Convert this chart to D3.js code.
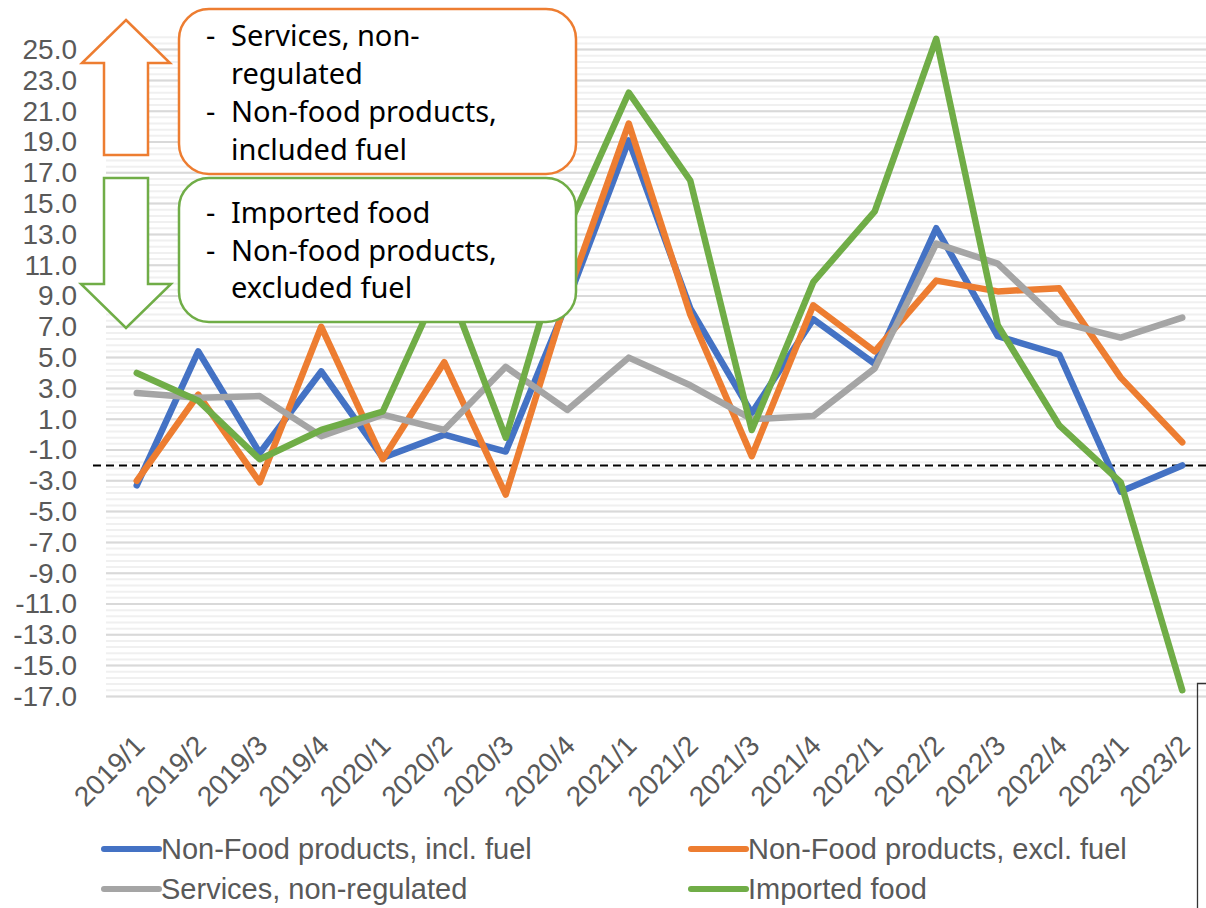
<!DOCTYPE html>
<html>
<head>
<meta charset="utf-8">
<script src="https://cdn.jsdelivr.net/npm/d3@7"></script>
<style>
  html, body { margin: 0; padding: 0; background: #ffffff; }
  svg { display: block; }
</style>
</head>
<body>
<svg id="chart" width="1206" height="908"></svg>
<script>
// Quarterly price change, % — four CPI components
const categories = ["2019/1","2019/2","2019/3","2019/4","2020/1","2020/2","2020/3","2020/4",
  "2021/1","2021/2","2021/3","2021/4","2022/1","2022/2","2022/3","2022/4","2023/1","2023/2"];

const nonFoodIncl  = [-3.3, 5.4, -1.2, 4.1, -1.5, 0.0, -1.1, 8.6, 19.1, 8.2, 1.4, 7.5, 4.6, 13.4, 6.4, 5.2, -3.7, -2.0];
const nonFoodExcl  = [-3.0, 2.6, -3.1, 7.0, -1.6, 4.7, -3.9, 9.0, 20.2, 7.8, -1.4, 8.4, 5.4, 10.0, 9.3, 9.5, 3.7, -0.5];
const servicesNonReg = [2.7, 2.4, 2.5, -0.1, 1.3, 0.3, 4.4, 1.6, 5.0, 3.2, 1.0, 1.2, 4.3, 12.4, 11.1, 7.3, 6.3, 7.6];
const importedFood = [4.0, 2.2, -1.6, 0.3, 1.5, 10.3, -0.2, 13.3, 22.2, 16.5, 0.3, 9.9, 14.5, 25.7, 7.1, 0.6, -3.1, -16.6];

const seriesNames  = ["Non-Food products, incl. fuel", "Non-Food products, excl. fuel", "Services, non-regulated", "Imported food"];
const seriesColors = ["#4472C4", "#ED7D31", "#A5A5A5", "#70AD47"];
const seriesValues = [nonFoodIncl, nonFoodExcl, servicesNonReg, importedFood];

const yTickValues = d3.range(-17, 25.001, 2);
const referenceLevel = -2.0;

const upGroups   = ["Services, non-", "regulated", "Non-food products,", "included fuel"];
const downGroups = ["Imported food", "Non-food products,", "excluded fuel"];

// ---- layout
const svg = d3.select("#chart");
const plotLeft = 106, plotRight = 1213;
const x = d3.scalePoint().domain(categories).range([plotLeft, plotRight]).padding(0.5);
const y = d3.scaleLinear().domain([-17, 26]).range([696.4, 34.2]);
const axisFont = "'Liberation Sans', Arial, sans-serif";
const fmt = d3.formatLocale({decimal: ".", thousands: ",", grouping: [3], currency: ["", ""], minus: "-"}).format(".1f");

// minor gridlines (every 0.4) then major gridlines (every 2)
const minorValues = d3.range(0, 108).map(i => -17 + i * 0.4).filter(v => v <= 26.001);
svg.append("g").selectAll("line").data(minorValues).join("line")
  .attr("x1", plotLeft).attr("x2", 1206)
  .attr("y1", d => y(d)).attr("y2", d => y(d))
  .attr("stroke", "#f0f0f0").attr("stroke-width", 2);
svg.append("g").selectAll("line").data(yTickValues).join("line")
  .attr("x1", plotLeft).attr("x2", 1206)
  .attr("y1", d => y(d)).attr("y2", d => y(d))
  .attr("stroke", "#d9d9d9").attr("stroke-width", 2);

// y axis labels
const yAxis = svg.append("g").attr("transform", `translate(${plotLeft},0)`)
  .call(d3.axisLeft(y).tickValues(yTickValues).tickFormat(fmt).tickSize(0).tickPadding(29));
yAxis.select(".domain").remove();
yAxis.selectAll("text").attr("font-family", axisFont).attr("font-size", 28).attr("fill", "#595959");

// x axis labels, rotated
const xAxis = svg.append("g").attr("transform", `translate(0,${y(-17)})`)
  .call(d3.axisBottom(x).tickSize(0).tickPadding(0));
xAxis.select(".domain").remove();
xAxis.selectAll("text")
  .attr("font-family", axisFont).attr("font-size", 28).attr("fill", "#595959")
  .attr("text-anchor", "end")
  .attr("dy", "0.35em")
  .attr("transform", "translate(2,44) rotate(-45)");

// dashed reference line
svg.append("line")
  .attr("x1", 93).attr("x2", 1206)
  .attr("y1", y(referenceLevel)).attr("y2", y(referenceLevel))
  .attr("stroke", "#000").attr("stroke-width", 2).attr("stroke-dasharray", "8,5");

// series lines
const line = d3.line().x((d, i) => x(categories[i])).y(d => y(d));
svg.append("g").selectAll("path").data(seriesValues).join("path")
  .attr("d", d => line(d))
  .attr("fill", "none")
  .attr("stroke", (d, i) => seriesColors[i])
  .attr("stroke-width", 6.5)
  .attr("stroke-linejoin", "round")
  .attr("stroke-linecap", "round");

// annotation arrows
const arrowStroke = 2.5;
svg.append("polygon")
  .attr("points", [[126,20],[170,63],[148,63],[148,155],[104,155],[104,63],[82,63]].join(" "))
  .attr("fill", "#fff").attr("stroke", "#ED7D31").attr("stroke-width", arrowStroke);
svg.append("polygon")
  .attr("points", [[104,178],[148,178],[148,284],[171,284],[126,328],[81,284],[104,284]].join(" "))
  .attr("fill", "#fff").attr("stroke", "#70AD47").attr("stroke-width", arrowStroke);

// annotation boxes
const boxFont = "'Noto Sans', 'DejaVu Sans', sans-serif";
function noteBox(top, bottom, color, lines, baselines, dashed) {
  const g = svg.append("g");
  g.append("rect")
    .attr("x", 179).attr("y", top).attr("width", 397).attr("height", bottom - top)
    .attr("rx", 30).attr("ry", 30)
    .attr("fill", "#fff").attr("stroke", color).attr("stroke-width", arrowStroke);
  lines.forEach((t, i) => {
    if (dashed[i]) {
      g.append("text").attr("x", 206).attr("y", baselines[i])
        .attr("font-family", boxFont).attr("font-size", 29).attr("fill", "#000").text("-");
    }
    g.append("text").attr("x", 231).attr("y", baselines[i])
      .attr("font-family", boxFont).attr("font-size", 29).attr("fill", "#000").text(t);
  });
}
noteBox(9, 174, "#ED7D31", upGroups, [46, 84, 122, 160], [true, false, true, false]);
noteBox(178, 322, "#70AD47", downGroups, [223, 261, 298], [true, true, false]);

// legend
const legendItems = [
  {i: 0, x: 104, y: 849}, {i: 1, x: 691, y: 849},
  {i: 2, x: 104, y: 889}, {i: 3, x: 691, y: 889}
];
const lg = svg.append("g");
legendItems.forEach(d => {
  lg.append("line").attr("x1", d.x).attr("x2", d.x + 55).attr("y1", d.y).attr("y2", d.y)
    .attr("stroke", seriesColors[d.i]).attr("stroke-width", 6).attr("stroke-linecap", "round");
  lg.append("text").attr("x", d.x + 57).attr("y", d.y).attr("dy", "0.36em")
    .attr("font-family", axisFont).attr("font-size", 29).attr("fill", "#595959")
    .text(seriesNames[d.i]);
});

// frame corner at lower right
svg.append("path").attr("d", "M1206,683.5 H1197.5 V908")
  .attr("fill", "none").attr("stroke", "#333").attr("stroke-width", 1.3);
</script>
</body>
</html>
